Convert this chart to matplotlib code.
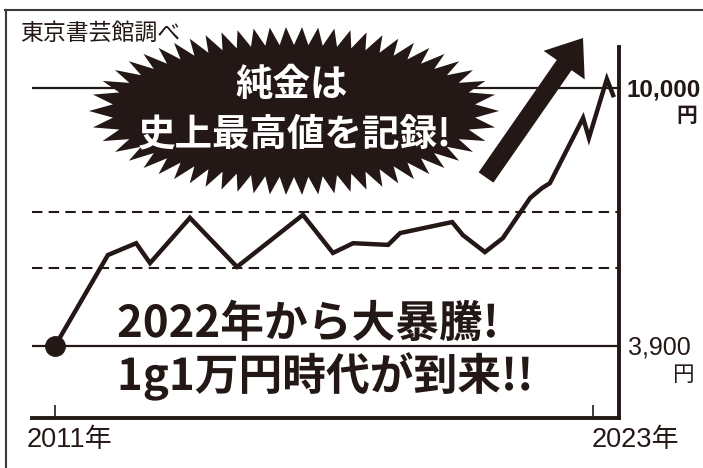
import numpy as np
import matplotlib.pyplot as plt
import matplotlib.patheffects as pe
from matplotlib.patches import Polygon, FancyArrow
from matplotlib.lines import Line2D
from matplotlib.transforms import Affine2D

ink = '#231815'
W, H = 703, 468

# gold price per gram (yen)
years = [2011.0, 2012.18, 2012.81, 2013.12, 2014.01, 2015.06, 2016.53, 2017.20,
         2017.65, 2018.43, 2018.70, 2019.86, 2020.10, 2020.59, 2020.99, 2021.60,
         2021.86, 2022.04, 2022.78, 2022.91, 2023.31, 2023.45]
prices = [3900, 6050, 6330, 5860, 6930, 5770, 7000, 6100,
          6330, 6290, 6570, 6830, 6520, 6120, 6450, 7400,
          7630, 7750, 9290, 8820, 10210, 9830]
solid_levels = [3900, 10000]
dash_levels = [5740, 7070]
tick_years = [2011, 2023]
tick_labels = ['2011年', '2023年']
level_labels = ['3,900', '10,000']

fig = plt.figure(figsize=(W / 100, H / 100), dpi=100)
# pixel coords (y down) -> figure
px = Affine2D().scale(1 / W, -1 / H).translate(0, 1) + fig.transFigure

ax = fig.add_axes([32 / W, 50 / H, 587 / W, 371 / H])
ax.set_xlim(2010.487, 2023.581)
ax.set_ylim(2198, 10968)
for s in ['top', 'left']:
    ax.spines[s].set_visible(False)
for s in ['right', 'bottom']:
    ax.spines[s].set_linewidth(2.8)
    ax.spines[s].set_color(ink)
ax.set_yticks([])
ax.set_xticks(tick_years)
ax.tick_params(axis='x', direction='in', length=9.5, width=1.2, color=ink,
               labelbottom=False)

for v in solid_levels:
    ax.axhline(v, color=ink, lw=1.6)
for v in dash_levels:
    ax.axhline(v, color=ink, lw=1.5, ls=(0, (5, 3)))

ax.plot(years, prices, color=ink, lw=3.2, solid_joinstyle='miter')
ax.plot(years[0], prices[0], 'o', color=ink, ms=14)

# outer frame (only top and left visible)
fig.add_artist(Line2D([5, W], [10, 10], transform=px, color='#3a3a3a', lw=1.5))
fig.add_artist(Line2D([6, 6], [10, H], transform=px, color='#3a3a3a', lw=1.5))

# starburst
cx, cy = 294, 111
a_out, b_out, a_in, b_in = 205, 84, 182, 66
n = 58
t = np.linspace(0, 2 * np.pi, 3000)
am, bm = (a_out + a_in) / 2, (b_out + b_in) / 2
seg = np.hypot(np.diff(am * np.cos(t)), np.diff(bm * np.sin(t)))
s = np.concatenate([[0], np.cumsum(seg)])
tt = np.interp(np.linspace(0, s[-1], 2 * n, endpoint=False), s, t)
odd = np.arange(2 * n) % 2 == 1
ra = np.where(odd, a_in, a_out)
rb = np.where(odd, b_in, b_out)
star = np.column_stack([cx + ra * np.cos(tt), cy + rb * np.sin(tt)])
fig.add_artist(Polygon(star, closed=True, transform=px, fc=ink, ec='none', zorder=3))

fig.add_artist(FancyArrow(486, 177.5, 97, -139.5, width=18, head_width=50,
                          head_length=33, length_includes_head=True,
                          transform=px, fc=ink, ec='none', zorder=3))

jp = ['Noto Sans CJK JP', 'DejaVu Sans']
latin = ['Liberation Sans', 'Noto Sans CJK JP']

fig.text(292, 96, '純金は', transform=px, ha='center', va='baseline',
         fontsize=27, weight='bold', color='white', family=jp, zorder=4)
fig.text(295, 145, '史上最高値を記録!', transform=px, ha='center', va='baseline',
         fontsize=27, weight='bold', color='white', family=jp, zorder=4)

halo = [pe.withStroke(linewidth=5, foreground='white')]
fig.text(117, 337, '2022年から大暴騰!', transform=px, va='baseline',
         fontsize=31.5, weight='bold', color=ink, family=jp, path_effects=halo, zorder=4)
fig.text(117, 390, '1g1万円時代が到来!!', transform=px, va='baseline',
         fontsize=31.5, weight='bold', color=ink, family=jp, path_effects=halo, zorder=4)

fig.text(20, 40, '東京書芸館調べ', transform=px, va='baseline', fontsize=16.5,
         color=ink, family=jp)

fig.text(626, 97, level_labels[1], transform=px, va='baseline', fontsize=17.5,
         weight='bold', color=ink, family=latin)
fig.text(697, 122, '円', transform=px, ha='right', va='baseline', fontsize=15,
         weight='bold', color=ink, family=jp)
fig.text(628, 355, level_labels[0], transform=px, va='baseline', fontsize=18,
         color=ink, family=latin)
fig.text(694, 381, '円', transform=px, ha='right', va='baseline', fontsize=15.5,
         color=ink, family=jp)

fig.text(27, 447, tick_labels[0], transform=px, va='baseline', fontsize=19.5,
         color=ink, family=latin)
fig.text(592, 447, tick_labels[1], transform=px, va='baseline', fontsize=19.5,
         color=ink, family=latin)

fig.savefig('out.png', dpi=100)
